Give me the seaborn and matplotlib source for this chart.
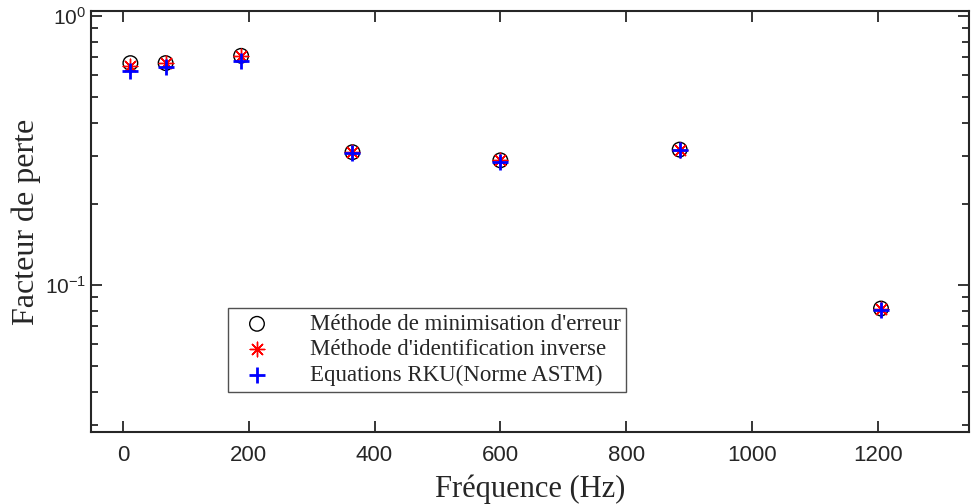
import matplotlib
import matplotlib.pyplot as plt
import pandas as pd
import seaborn as sns

matplotlib.use("Agg")

freq_hz = [12, 68, 188, 365, 600, 885, 1205]
loss_minimisation = [0.667, 0.667, 0.710, 0.311, 0.290, 0.318, 0.0815]
loss_inverse = [0.648, 0.667, 0.710, 0.311, 0.291, 0.318, 0.0815]
loss_rku = [0.621, 0.644, 0.682, 0.309, 0.287, 0.316, 0.0805]

labels = [
    "Méthode de minimisation d'erreur",
    "Méthode d'identification inverse",
    "Equations RKU(Norme ASTM)",
]

df = pd.DataFrame({
    "freq": freq_hz * 3,
    "loss": loss_minimisation + loss_inverse + loss_rku,
    "method": [labels[0]] * 7 + [labels[1]] * 7 + [labels[2]] * 7,
})

sns.set_style("white")
plt.rcParams["font.family"] = ["Liberation Sans", "DejaVu Sans"]
plt.rcParams["mathtext.fontset"] = "custom"
plt.rcParams["mathtext.rm"] = "Liberation Sans"
plt.rcParams["axes.unicode_minus"] = False

fig, ax = plt.subplots(figsize=(9.72, 5.04), dpi=100)

sub = df[df["method"] == labels[0]]
sns.scatterplot(data=sub, x="freq", y="loss", ax=ax, marker="o", s=110,
                facecolors="none", edgecolor="black", linewidth=1.0, label=labels[0])
sub = df[df["method"] == labels[1]]
sns.scatterplot(data=sub, x="freq", y="loss", ax=ax, marker=(8, 2, 0), s=110,
                color="red", linewidth=1.0, label=labels[1])
sub = df[df["method"] == labels[2]]
sns.scatterplot(data=sub, x="freq", y="loss", ax=ax, marker="+", s=140,
                color="blue", linewidth=2.0, label=labels[2])

ax.set_yscale("log")
ax.set_xlim(-50, 1345)
ax.set_ylim(0.0282, 1.046)
ax.set_xticks([0, 200, 400, 600, 800, 1000, 1200])

ax.set_xlabel("Fréquence (Hz)", family="Liberation Serif", fontsize=22, labelpad=6)
ax.set_ylabel("Facteur de perte", family="Liberation Serif", fontsize=23, labelpad=3)

ax.tick_params(axis="both", which="both", direction="in", top=True, right=True,
               left=True, bottom=True,
               width=1.3, color="#262626", labelsize=15, labelcolor="#262626")
ax.tick_params(axis="both", which="major", length=8)
ax.tick_params(axis="y", which="minor", length=5)
ax.tick_params(axis="x", which="major", pad=9)
for t in ax.get_xticklabels():
    t.set_family(["Liberation Sans Narrow", "Liberation Sans"])
    t.set_fontsize(16)
for sp in ax.spines.values():
    sp.set_linewidth(1.5)
    sp.set_color("#262626")

leg = ax.legend(loc="upper left", bbox_to_anchor=(0.143, 0.322), frameon=True,
                fancybox=False, edgecolor="#262626",
                prop={"family": "Liberation Serif", "size": 16.5},
                handletextpad=1.3, borderpad=0.25, labelspacing=0.2)
leg.get_frame().set_linewidth(1.0)

fig.subplots_adjust(left=0.094, right=0.997, top=0.979, bottom=0.142)
fig.savefig("out.png", dpi=100)
